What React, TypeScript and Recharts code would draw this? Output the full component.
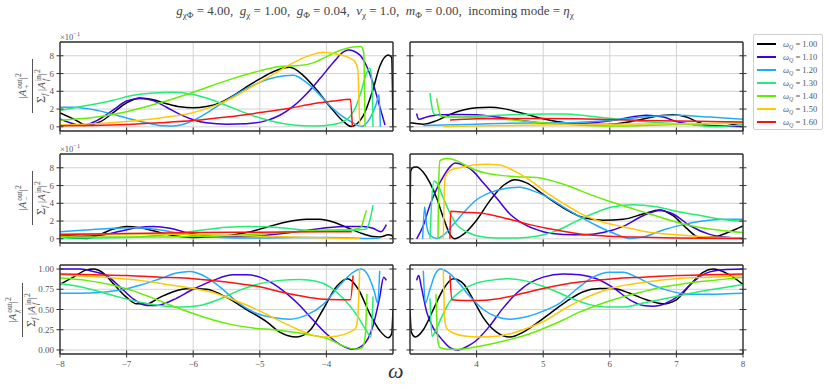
import React from 'react';
import { LineChart, Line, XAxis, YAxis, CartesianGrid, ReferenceLine } from 'recharts';

type Pt = [number, number];

const omegas = ['1.00', '1.10', '1.20', '1.30', '1.40', '1.50', '1.60'];
const colors = ['#000000', '#3f00e0', '#22aaff', '#22ee77', '#66ee00', '#ffc800', '#ff1111'];

const xTicksLeft = [-8, -7, -6, -5, -4];
const xTicksRight = [4, 5, 6, 7, 8];
const yTicksAmp = [0, 2, 4, 6, 8];
const yTicksChi = [0, 0.25, 0.5, 0.75, 1.0];

// |A+out|^2 (x 10^-1), omega < 0
const plusLeft: Pt[][] = [
  [[-8, 1.57], [-7.8, 0.9], [-7.6, 0.2], [-7.4, 0.55], [-7.2, 1.6], [-7.0, 2.7], [-6.8, 3.25], [-6.6, 3.05], [-6.4, 2.6], [-6.2, 2.25], [-6.0, 2.15], [-5.8, 2.3], [-5.6, 2.7], [-5.4, 3.5], [-5.2, 4.5], [-5.0, 5.4], [-4.8, 6.2], [-4.55, 6.7], [-4.35, 5.8], [-4.15, 4.2], [-3.95, 2.3], [-3.75, 0.64], [-3.63, 0.05], [-3.45, 1.2], [-3.3, 4.2], [-3.2, 6.8], [-3.07, 8.1], [-3.02, 7.8], [-3.0, 0]],
  [[-8, 0.9], [-7.8, 0.35], [-7.65, 0.15], [-7.45, 0.7], [-7.2, 1.9], [-7.0, 2.9], [-6.8, 3.2], [-6.6, 2.95], [-6.4, 2.2], [-6.2, 1.4], [-6.0, 0.8], [-5.8, 0.45], [-5.5, 0.3], [-5.2, 0.35], [-4.9, 0.7], [-4.7, 1.3], [-4.5, 2.3], [-4.3, 3.7], [-4.1, 5.4], [-3.9, 7.2], [-3.75, 8.4], [-3.67, 8.65], [-3.5, 8.1], [-3.4, 6.9], [-3.3, 4.9], [-3.2, 2.3], [-3.12, 0.2]],
  [[-8, 2.2], [-7.8, 2.2], [-7.6, 2.05], [-7.3, 1.6], [-7.0, 1.0], [-6.7, 0.45], [-6.45, 0.12], [-6.3, 0.1], [-6.1, 0.4], [-5.9, 1.1], [-5.6, 2.5], [-5.3, 3.9], [-5.0, 5.0], [-4.75, 5.6], [-4.5, 5.8], [-4.3, 5.0], [-4.1, 3.6], [-3.95, 2.4], [-3.8, 1.4], [-3.6, 0.45], [-3.48, 0.05], [-3.35, 0.9], [-3.25, 2.6], [-3.21, 3.6], [-3.19, 0]],
  [[-8, 1.85], [-7.6, 2.4], [-7.2, 3.0], [-6.9, 3.55], [-6.6, 3.8], [-6.3, 3.9], [-6.0, 3.65], [-5.7, 3.0], [-5.4, 2.1], [-5.1, 1.25], [-4.8, 0.6], [-4.5, 0.2], [-4.2, 0.08], [-3.9, 0.25], [-3.7, 0.8], [-3.55, 2.4], [-3.47, 4.2], [-3.4, 6.0], [-3.35, 6.6], [-3.32, 5.5], [-3.3, 0]],
  [[-8, 0.75], [-7.5, 1.05], [-7.0, 1.7], [-6.5, 2.7], [-6.0, 3.9], [-5.5, 5.2], [-5.0, 6.3], [-4.7, 6.8], [-4.4, 6.9], [-4.2, 7.2], [-4.0, 7.9], [-3.8, 8.6], [-3.6, 9.0], [-3.48, 9.05], [-3.44, 8.4], [-3.42, 0]],
  [[-8, 0.2], [-7.5, 0.35], [-7.0, 0.6], [-6.5, 1.0], [-6.0, 1.6], [-5.7, 2.3], [-5.4, 3.3], [-5.1, 4.6], [-4.8, 5.9], [-4.55, 7.0], [-4.3, 7.9], [-4.05, 8.4], [-3.85, 8.2], [-3.7, 7.9], [-3.58, 7.4], [-3.53, 6.5], [-3.5, 0]],
  [[-8, 0.12], [-7.5, 0.15], [-7.0, 0.25], [-6.5, 0.45], [-6.0, 0.7], [-5.5, 1.1], [-5.0, 1.6], [-4.55, 2.1], [-4.2, 2.6], [-3.9, 2.9], [-3.64, 3.1], [-3.61, 0]],
];

// |A+out|^2 (x 10^-1), omega > 0
const plusRight: Pt[][] = [
  [[3.0, 0.45], [3.2, 0.3], [3.4, 0.7], [3.6, 1.4], [3.8, 1.9], [4.0, 2.15], [4.2, 2.2], [4.4, 2.05], [4.6, 1.7], [4.8, 1.3], [5.0, 0.9], [5.2, 0.6], [5.5, 0.35], [5.8, 0.25], [6.1, 0.35], [6.4, 0.7], [6.7, 1.2], [6.95, 1.37], [7.15, 1.1], [7.35, 0.45], [7.5, 0.12], [7.7, 0.1], [8.0, 0.45]],
  [[3.1, 1.5], [3.13, 0.85], [3.25, 1.1], [3.45, 1.35], [3.7, 1.4], [4.0, 1.35], [4.3, 1.1], [4.6, 0.8], [4.9, 0.5], [5.2, 0.4], [5.5, 0.4], [5.8, 0.5], [6.1, 0.8], [6.4, 1.2], [6.55, 1.3], [6.8, 1.1], [7.0, 0.6], [7.25, 0.25], [7.6, 0.1], [8.0, 0.05]],
  [[3.2, 0.15], [3.5, 0.2], [4.0, 0.3], [4.5, 0.4], [5.0, 0.45], [5.5, 0.5], [6.0, 0.7], [6.5, 1.1], [7.0, 1.3], [7.5, 1.1], [8.0, 0.85]],
  [[3.3, 3.8], [3.33, 2.2], [3.37, 1.4], [3.5, 1.2], [3.75, 1.1], [4.0, 1.2], [4.5, 1.35], [5.0, 1.45], [5.3, 1.45], [5.7, 1.2], [6.2, 0.8], [6.7, 0.5], [7.2, 0.25], [7.6, 0.02], [8.0, 0.25]],
  [[3.4, 3.2], [3.43, 2.0], [3.47, 1.2], [3.7, 1.1], [4.0, 1.05], [4.5, 0.8], [5.0, 0.45], [5.5, 0.2], [6.0, 0.08], [6.5, 0.15], [7.0, 0.26], [7.5, 0.35], [8.0, 0.44]],
  [[3.5, 0.05], [4.0, 0.1], [4.5, 0.15], [5.0, 0.2], [5.5, 0.26], [6.0, 0.3], [6.5, 0.32], [7.0, 0.34], [7.5, 0.38], [8.0, 0.44]],
  [[3.6, 0.78], [4.0, 0.9], [4.5, 0.95], [5.0, 0.95], [5.5, 0.92], [6.0, 0.82], [6.5, 0.72], [7.0, 0.65], [7.5, 0.6], [8.0, 0.55]],
];

// |A-out|^2 (x 10^-1), omega < 0
const minusLeft: Pt[][] = [
  [[-8, 0.35], [-7.8, 0.1], [-7.6, 0.05], [-7.4, 0.5], [-7.2, 1.1], [-7.0, 1.4], [-6.8, 1.25], [-6.6, 0.9], [-6.4, 0.5], [-6.2, 0.25], [-6.0, 0.15], [-5.8, 0.2], [-5.5, 0.35], [-5.2, 0.7], [-4.9, 1.3], [-4.6, 1.9], [-4.3, 2.2], [-4.1, 2.2], [-3.9, 1.9], [-3.7, 1.3], [-3.5, 0.7], [-3.3, 0.25], [-3.2, 0.2], [-3.07, 0.45], [-3.02, 0.4], [-3.0, 0.1]],
  [[-8, 0.4], [-7.7, 0.3], [-7.4, 0.4], [-7.1, 0.85], [-6.85, 1.25], [-6.6, 1.4], [-6.35, 1.2], [-6.1, 0.7], [-5.8, 0.35], [-5.5, 0.2], [-5.2, 0.25], [-4.9, 0.4], [-4.6, 0.65], [-4.3, 0.95], [-4.0, 1.25], [-3.7, 1.4], [-3.45, 1.4], [-3.3, 1.2], [-3.18, 0.8], [-3.1, 1.6]],
  [[-8, 0.8], [-7.6, 1.0], [-7.2, 1.2], [-6.9, 1.25], [-6.6, 1.1], [-6.3, 0.75], [-6.0, 0.4], [-5.7, 0.2], [-5.3, 0.1], [-5.0, 0.1], [-4.5, 0.15], [-4.0, 0.15], [-3.6, 0.1], [-3.4, 0.05], [-3.2, 0.1]],
  [[-8, 0.1], [-7.5, 0.1], [-7.0, 0.15], [-6.5, 0.4], [-6.0, 0.85], [-5.5, 1.3], [-5.2, 1.4], [-4.9, 1.35], [-4.5, 1.1], [-4.1, 0.9], [-3.8, 0.9], [-3.55, 1.0], [-3.4, 1.1], [-3.35, 2.0], [-3.3, 3.8]],
  [[-8, 0.3], [-7.5, 0.2], [-7.0, 0.2], [-6.5, 0.2], [-6.0, 0.25], [-5.5, 0.35], [-5.0, 0.55], [-4.5, 0.8], [-4.0, 1.0], [-3.6, 1.05], [-3.48, 1.3], [-3.44, 2.2], [-3.4, 3.2]],
  [[-8, 0.55], [-7.5, 0.55], [-7.0, 0.55], [-6.5, 0.55], [-6.0, 0.5], [-5.5, 0.4], [-5.0, 0.3], [-4.5, 0.2], [-4.0, 0.1], [-3.5, 0.05]],
  [[-8, 0.5], [-7, 0.6], [-6, 0.7], [-5, 0.75], [-4, 0.8], [-3.62, 0.8]],
];

// |A-out|^2 (x 10^-1), omega > 0
const minusRight: Pt[][] = [
  [[3.0, 0], [3.01, 7.6], [3.05, 8.05], [3.1, 8.1], [3.2, 7.5], [3.3, 6.3], [3.4, 4.6], [3.5, 2.4], [3.6, 0.5], [3.67, 0.0], [3.8, 0.5], [4.0, 2.1], [4.2, 4.3], [4.4, 6.0], [4.57, 6.65], [4.75, 6.3], [5.0, 5.0], [5.3, 3.5], [5.6, 2.4], [5.9, 2.1], [6.2, 2.2], [6.5, 2.8], [6.75, 3.25], [6.95, 2.6], [7.15, 1.2], [7.35, 0.15], [7.55, 0.2], [7.8, 0.8], [8.0, 1.45]],
  [[3.1, 0], [3.2, 1.5], [3.3, 3.8], [3.4, 5.6], [3.5, 7.0], [3.6, 8.1], [3.68, 8.55], [3.8, 8.3], [3.95, 7.6], [4.1, 6.3], [4.3, 4.6], [4.5, 2.8], [4.7, 1.7], [5.0, 0.8], [5.3, 0.5], [5.6, 0.45], [5.9, 0.7], [6.2, 1.4], [6.5, 2.6], [6.75, 3.2], [6.95, 2.8], [7.2, 1.5], [7.5, 0.5], [7.8, 0.15], [8.0, 0.1]],
  [[3.19, 0], [3.22, 3.6], [3.25, 1.5], [3.3, 0.4], [3.4, 0.05], [3.5, 0.4], [3.65, 1.6], [3.8, 2.9], [4.0, 4.4], [4.2, 5.2], [4.45, 5.7], [4.65, 5.8], [4.85, 5.4], [5.05, 4.75], [5.3, 3.6], [5.55, 2.5], [5.8, 1.5], [6.05, 0.65], [6.3, 0.05], [6.5, 0.2], [6.8, 1.0], [7.1, 1.6], [7.4, 2.0], [7.7, 2.2], [8.0, 2.2]],
  [[3.3, 0], [3.32, 3.5], [3.36, 6.5], [3.4, 6.3], [3.5, 4.6], [3.6, 2.9], [3.7, 1.6], [3.85, 0.8], [4.0, 0.35], [4.3, 0.1], [4.6, 0.1], [4.9, 0.3], [5.2, 0.9], [5.5, 2.0], [5.8, 3.0], [6.05, 3.6], [6.35, 3.85], [6.7, 3.6], [7.0, 3.1], [7.3, 2.7], [7.6, 2.3], [8.0, 1.95]],
  [[3.42, 0], [3.43, 6.0], [3.45, 8.8], [3.55, 9.05], [3.7, 8.8], [3.85, 8.2], [4.0, 7.7], [4.3, 7.2], [4.6, 7.0], [4.9, 6.9], [5.1, 6.6], [5.4, 5.9], [5.7, 5.0], [6.0, 4.2], [6.3, 3.5], [6.6, 2.8], [6.9, 2.1], [7.2, 1.5], [7.5, 1.1], [8.0, 0.7]],
  [[3.5, 0], [3.51, 4.0], [3.53, 7.0], [3.6, 7.7], [3.75, 8.0], [3.95, 8.3], [4.15, 8.4], [4.35, 8.3], [4.55, 7.7], [4.8, 6.6], [5.05, 5.2], [5.3, 4.0], [5.55, 2.9], [5.8, 2.1], [6.05, 1.6], [6.3, 1.2], [6.55, 0.8], [7.0, 0.45], [7.5, 0.2], [8.0, 0.08]],
  [[3.6, 0], [3.61, 3.1], [3.8, 3.0], [4.05, 2.9], [4.3, 2.55], [4.55, 2.1], [4.8, 1.6], [5.05, 1.2], [5.3, 0.85], [5.55, 0.55], [6.0, 0.3], [6.5, 0.18], [7.0, 0.1], [7.5, 0.06], [8.0, 0.04]],
];

// |A_chi out|^2, omega < 0
const chiLeft: Pt[][] = [
  [[-8, 0.81], [-7.8, 0.9], [-7.6, 0.99], [-7.5, 1.0], [-7.35, 0.95], [-7.2, 0.82], [-7.0, 0.65], [-6.85, 0.57], [-6.7, 0.57], [-6.5, 0.65], [-6.3, 0.72], [-6.05, 0.76], [-5.8, 0.75], [-5.5, 0.65], [-5.2, 0.5], [-4.9, 0.35], [-4.7, 0.22], [-4.45, 0.16], [-4.25, 0.24], [-4.05, 0.5], [-3.85, 0.78], [-3.68, 0.88], [-3.52, 0.75], [-3.35, 0.45], [-3.2, 0.24], [-3.07, 0.15], [-3.02, 0.2], [-3.0, 0.5]],
  [[-8, 1.0], [-7.7, 1.0], [-7.5, 0.97], [-7.3, 0.92], [-7.1, 0.78], [-6.9, 0.63], [-6.7, 0.55], [-6.55, 0.55], [-6.3, 0.62], [-6.0, 0.75], [-5.7, 0.86], [-5.4, 0.93], [-5.2, 0.93], [-5.0, 0.9], [-4.8, 0.82], [-4.6, 0.7], [-4.4, 0.55], [-4.2, 0.37], [-4.0, 0.2], [-3.8, 0.07], [-3.6, 0.01], [-3.45, 0.06], [-3.3, 0.3], [-3.2, 0.65], [-3.14, 0.9], [-3.1, 0.86]],
  [[-8, 0.7], [-7.7, 0.7], [-7.4, 0.71], [-7.1, 0.74], [-6.8, 0.8], [-6.5, 0.88], [-6.25, 0.95], [-6.05, 0.97], [-5.85, 0.92], [-5.6, 0.78], [-5.35, 0.6], [-5.1, 0.47], [-4.8, 0.4], [-4.55, 0.38], [-4.3, 0.43], [-4.05, 0.56], [-3.8, 0.8], [-3.6, 0.96], [-3.48, 1.0], [-3.38, 0.93], [-3.28, 0.72], [-3.23, 0.58], [-3.2, 0.98]],
  [[-8, 0.82], [-7.7, 0.78], [-7.4, 0.72], [-7.1, 0.65], [-6.8, 0.59], [-6.5, 0.55], [-6.2, 0.53], [-5.9, 0.55], [-5.6, 0.63], [-5.3, 0.74], [-5.0, 0.82], [-4.7, 0.86], [-4.4, 0.87], [-4.15, 0.85], [-3.95, 0.78], [-3.75, 0.64], [-3.55, 0.44], [-3.4, 0.24], [-3.33, 0.16], [-3.3, 0.66]],
  [[-8, 0.89], [-7.6, 0.86], [-7.2, 0.8], [-6.9, 0.73], [-6.6, 0.64], [-6.3, 0.54], [-6.0, 0.45], [-5.7, 0.37], [-5.4, 0.31], [-5.1, 0.27], [-4.8, 0.25], [-4.5, 0.22], [-4.2, 0.18], [-3.95, 0.13], [-3.75, 0.05], [-3.55, 0.01], [-3.46, 0.03], [-3.42, 0.15], [-3.39, 0.69]],
  [[-8, 0.93], [-7.6, 0.91], [-7.2, 0.89], [-6.8, 0.86], [-6.4, 0.81], [-6.0, 0.76], [-5.7, 0.71], [-5.4, 0.62], [-5.1, 0.52], [-4.8, 0.4], [-4.55, 0.3], [-4.3, 0.21], [-4.05, 0.16], [-3.85, 0.17], [-3.65, 0.22], [-3.56, 0.27], [-3.53, 0.4], [-3.5, 1.0]],
  [[-8, 0.94], [-7.5, 0.93], [-7.0, 0.92], [-6.5, 0.9], [-6.0, 0.88], [-5.5, 0.84], [-5.0, 0.78], [-4.7, 0.72], [-4.4, 0.67], [-4.1, 0.63], [-3.8, 0.62], [-3.64, 0.62], [-3.6, 0.92]],
];

// |A_chi out|^2, omega > 0
const chiRight: Pt[][] = [
  [[3.0, 0.5], [3.02, 0.22], [3.08, 0.16], [3.2, 0.25], [3.35, 0.5], [3.5, 0.75], [3.65, 0.88], [3.8, 0.82], [3.95, 0.62], [4.1, 0.4], [4.3, 0.22], [4.5, 0.16], [4.7, 0.22], [4.9, 0.33], [5.1, 0.45], [5.35, 0.6], [5.6, 0.72], [5.85, 0.76], [6.05, 0.76], [6.3, 0.7], [6.55, 0.62], [6.8, 0.57], [7.0, 0.62], [7.2, 0.8], [7.4, 0.96], [7.55, 1.0], [7.75, 0.95], [8.0, 0.81]],
  [[3.1, 0.86], [3.13, 0.92], [3.17, 0.78], [3.25, 0.47], [3.35, 0.27], [3.47, 0.14], [3.6, 0.03], [3.72, 0.0], [3.85, 0.04], [4.0, 0.12], [4.2, 0.3], [4.4, 0.52], [4.6, 0.7], [4.8, 0.83], [5.0, 0.9], [5.3, 0.94], [5.55, 0.93], [5.8, 0.88], [6.05, 0.77], [6.3, 0.62], [6.5, 0.55], [6.65, 0.54], [6.85, 0.58], [7.05, 0.68], [7.25, 0.84], [7.45, 0.95], [7.7, 0.99], [8.0, 1.0]],
  [[3.2, 0.98], [3.23, 0.58], [3.3, 0.75], [3.38, 0.94], [3.46, 1.0], [3.55, 0.97], [3.7, 0.86], [3.9, 0.66], [4.1, 0.5], [4.3, 0.41], [4.5, 0.38], [4.75, 0.41], [5.0, 0.48], [5.25, 0.58], [5.5, 0.75], [5.75, 0.9], [6.0, 0.96], [6.2, 0.96], [6.4, 0.9], [6.65, 0.8], [6.9, 0.73], [7.2, 0.69], [7.6, 0.69], [8.0, 0.7]],
  [[3.3, 0.64], [3.33, 0.17], [3.4, 0.27], [3.5, 0.45], [3.6, 0.6], [3.75, 0.72], [3.95, 0.81], [4.2, 0.86], [4.45, 0.88], [4.7, 0.86], [4.95, 0.8], [5.2, 0.72], [5.45, 0.63], [5.7, 0.56], [5.95, 0.53], [6.2, 0.53], [6.5, 0.58], [6.8, 0.63], [7.1, 0.68], [7.4, 0.73], [7.7, 0.77], [8.0, 0.81]],
  [[3.39, 0.69], [3.42, 0.1], [3.45, 0.03], [3.55, 0.01], [3.75, 0.01], [4.0, 0.04], [4.3, 0.09], [4.55, 0.14], [4.8, 0.2], [5.05, 0.28], [5.3, 0.37], [5.55, 0.47], [5.8, 0.55], [6.05, 0.62], [6.3, 0.68], [6.55, 0.73], [6.8, 0.78], [7.05, 0.81], [7.3, 0.84], [7.55, 0.86], [8.0, 0.9]],
  [[3.5, 1.0], [3.52, 0.4], [3.55, 0.27], [3.65, 0.21], [3.85, 0.17], [4.05, 0.16], [4.3, 0.17], [4.55, 0.21], [4.8, 0.28], [5.05, 0.37], [5.3, 0.5], [5.55, 0.61], [5.8, 0.7], [6.05, 0.77], [6.3, 0.81], [6.55, 0.84], [7.0, 0.88], [7.5, 0.9], [8.0, 0.92]],
  [[3.6, 0.92], [3.63, 0.62], [3.8, 0.61], [4.0, 0.61], [4.3, 0.63], [4.55, 0.67], [4.8, 0.72], [5.05, 0.77], [5.3, 0.81], [5.55, 0.84], [5.8, 0.86], [6.05, 0.88], [6.5, 0.9], [7.0, 0.92], [7.5, 0.93], [8.0, 0.94]],
];

const FONT = '"Liberation Serif", "DejaVu Serif", serif';
const TXT = '#555';
const FRAME = '#333';
const TK = 3.5;

const minus = (v: number) => (v < 0 ? '\u2212' + Math.abs(v) : String(v));

function makeYTick(show: boolean, fmt: (v: number) => string) {
  return (p: any) => (
    <g>
      <line x1={p.x - TK} x2={p.x + TK} y1={p.y} y2={p.y} stroke={FRAME} strokeWidth={1} />
      {show && (
        <text x={p.x - 6} y={p.y + 3} textAnchor="end" fontSize={9} fill={TXT} fontFamily={FONT}>
          {fmt(p.payload.value)}
        </text>
      )}
    </g>
  );
}

function makeXTick(show: boolean) {
  return (p: any) => (
    <g>
      <line x1={p.x} x2={p.x} y1={p.y - TK} y2={p.y + TK} stroke={FRAME} strokeWidth={1} />
      {show && (
        <text x={p.x} y={p.y + 13} textAnchor="middle" fontSize={9} fill={TXT} fontFamily={FONT}>
          {minus(p.payload.value)}
        </text>
      )}
    </g>
  );
}

interface PanelProps {
  left: number;
  top: number;
  h: number;
  series: Pt[][];
  xDomain: [number, number];
  xTicks: number[];
  yDomain: [number, number];
  yTicks: number[];
  showX: boolean;
  showY: boolean;
  yFmt: (v: number) => string;
}

function Panel({ left, top, h, series, xDomain, xTicks, yDomain, yTicks, showX, showY, yFmt }: PanelProps) {
  const w = 333;
  const W = w + 50;
  const H = h + 26;
  return (
    <div style={{ position: 'absolute', left: left - 40, top: top - 6, width: W, height: H }}>
      <LineChart width={W} height={H} margin={{ top: 6, right: 2, bottom: 0, left: 0 }}>
        <CartesianGrid stroke="#d2d2d2" strokeWidth={1} />
        <XAxis
          dataKey="x"
          type="number"
          domain={xDomain}
          ticks={xTicks}
          interval={0}
          allowDataOverflow
          height={20}
          tickSize={0}
          tickMargin={0}
          axisLine={{ stroke: FRAME, strokeWidth: 1.4 }}
          tickLine={false}
          tick={makeXTick(showX)}
        />
        <YAxis
          type="number"
          domain={yDomain}
          ticks={yTicks}
          interval={0}
          allowDataOverflow
          width={40}
          tickSize={0}
          tickMargin={0}
          axisLine={{ stroke: FRAME, strokeWidth: 1.4 }}
          tickLine={false}
          tick={makeYTick(showY, yFmt)}
        />
        <YAxis
          yAxisId="r"
          orientation="right"
          type="number"
          domain={yDomain}
          ticks={yTicks}
          interval={0}
          allowDataOverflow
          width={8}
          tickSize={0}
          tickMargin={0}
          axisLine={{ stroke: FRAME, strokeWidth: 1.4 }}
          tickLine={false}
          tick={makeYTick(false, yFmt)}
        />
        <ReferenceLine y={yDomain[1]} stroke={FRAME} strokeWidth={1.4} />
        {series.map((pts, i) => (
          <Line
            key={omegas[i]}
            data={pts.map(([x, y]) => ({ x, y }))}
            dataKey="y"
            type="monotone"
            stroke={colors[i]}
            strokeWidth={1.5}
            dot={false}
            activeDot={false}
            isAnimationActive={false}
          />
        ))}
      </LineChart>
    </div>
  );
}

const Sub = ({ children }: { children: React.ReactNode }) => (
  <sub style={{ fontSize: '0.7em', verticalAlign: '-0.3em', lineHeight: 0 }}>{children}</sub>
);

function SupSub({ sup, sub }: { sup: React.ReactNode; sub: React.ReactNode }) {
  return (
    <span style={{ display: 'inline-flex', flexDirection: 'column', fontSize: '0.68em', lineHeight: 0.95, verticalAlign: 'middle', marginLeft: 1 }}>
      <span>{sup}</span>
      <span>{sub}</span>
    </span>
  );
}

function YLabel({ cx, cy, sub }: { cx: number; cy: number; sub: React.ReactNode }) {
  return (
    <div
      style={{
        position: 'absolute',
        left: cx - 45,
        top: cy - 17,
        width: 90,
        height: 34,
        transform: 'rotate(-90deg)',
        display: 'flex',
        flexDirection: 'column',
        alignItems: 'center',
        justifyContent: 'center',
        fontFamily: FONT,
        fontSize: 11,
        color: TXT,
        lineHeight: 1,
      }}
    >
      <div style={{ paddingBottom: 1 }}>
        |<i>A</i>
        <SupSub sup="out" sub={sub} />|<sup style={{ fontSize: '0.7em' }}>2</sup>
      </div>
      <div style={{ width: 54, borderTop: `1px solid ${TXT}` }} />
      <div style={{ paddingTop: 1 }}>
        <span style={{ fontSize: '1.1em' }}>&Sigma;</span>
        <Sub><i>f</i></Sub> |<i>A</i>
        <SupSub sup="in" sub={<i>f</i>} />|<sup style={{ fontSize: '0.7em' }}>2</sup>
      </div>
    </div>
  );
}

function Scale({ top }: { top: number }) {
  return (
    <div style={{ position: 'absolute', left: 60, top, fontFamily: FONT, fontSize: 8.5, color: TXT }}>
      &times;10<sup style={{ fontSize: '0.75em' }}>&minus;1</sup>
    </div>
  );
}

export default function App() {
  const ampDomain: [number, number] = [-0.47, 9.55];
  const chiDomain: [number, number] = [-0.05, 1.05];
  const fmtAmp = (v: number) => String(v);
  const fmtChi = (v: number) => v.toFixed(2);
  return (
    <div style={{ position: 'absolute', left: 0, top: 0, width: 830, height: 391, background: '#fff', overflow: 'hidden' }}>
      <div
        style={{
          position: 'absolute',
          left: 0,
          width: 750,
          top: 3,
          textAlign: 'center',
          fontFamily: FONT,
          fontSize: 13,
          color: '#444',
          whiteSpace: 'nowrap',
        }}
      >
        <i>g</i><Sub>&chi;&Phi;</Sub> = 4.00, &nbsp;<i>g</i><Sub>&chi;</Sub> = 1.00, &nbsp;<i>g</i><Sub>&Phi;</Sub> = 0.04, &nbsp;
        <i>v</i><Sub>&chi;</Sub> = 1.0, &nbsp;<i>m</i><Sub>&Phi;</Sub> = 0.00, &nbsp;incoming mode = <i>&eta;</i><Sub>&chi;</Sub>
      </div>

      <Scale top={30} />
      <Scale top={142} />

      <YLabel cx={32} cy={86} sub="+" />
      <YLabel cx={32} cy={198} sub="−" />
      <YLabel cx={22} cy={310} sub={<i>&chi;</i>} />

      <Panel left={60} top={42} h={89} series={plusLeft} xDomain={[-8, -3]} xTicks={xTicksLeft} yDomain={ampDomain} yTicks={yTicksAmp} showX={false} showY yFmt={fmtAmp} />
      <Panel left={410} top={42} h={89} series={plusRight} xDomain={[3, 8]} xTicks={xTicksRight} yDomain={ampDomain} yTicks={yTicksAmp} showX={false} showY={false} yFmt={fmtAmp} />
      <Panel left={60} top={154} h={89} series={minusLeft} xDomain={[-8, -3]} xTicks={xTicksLeft} yDomain={ampDomain} yTicks={yTicksAmp} showX={false} showY yFmt={fmtAmp} />
      <Panel left={410} top={154} h={89} series={minusRight} xDomain={[3, 8]} xTicks={xTicksRight} yDomain={ampDomain} yTicks={yTicksAmp} showX={false} showY={false} yFmt={fmtAmp} />
      <Panel left={60} top={265} h={89} series={chiLeft} xDomain={[-8, -3]} xTicks={xTicksLeft} yDomain={chiDomain} yTicks={yTicksChi} showX showY yFmt={fmtChi} />
      <Panel left={410} top={265} h={89} series={chiRight} xDomain={[3, 8]} xTicks={xTicksRight} yDomain={chiDomain} yTicks={yTicksChi} showX showY={false} yFmt={fmtChi} />

      <div style={{ position: 'absolute', left: 388, top: 360, fontFamily: FONT, fontSize: 22, fontStyle: 'italic', color: '#333', lineHeight: 1 }}>
        &omega;
      </div>

      <div
        style={{
          position: 'absolute',
          left: 753,
          top: 34,
          width: 70,
          height: 96,
          border: '1px solid #d0d0d0',
          borderRadius: 2,
          background: '#fff',
          boxSizing: 'border-box',
          paddingTop: 2,
        }}
      >
        {omegas.map((o, i) => (
          <div key={o} style={{ height: 13.1, display: 'flex', alignItems: 'center', fontFamily: FONT, fontSize: 8.5, color: '#555' }}>
            <div style={{ width: 19, height: 2, background: colors[i], marginLeft: 3, marginRight: 7 }} />
            <span>
              <i>&omega;</i><Sub><i>Q</i></Sub> = {o}
            </span>
          </div>
        ))}
      </div>
    </div>
  );
}
